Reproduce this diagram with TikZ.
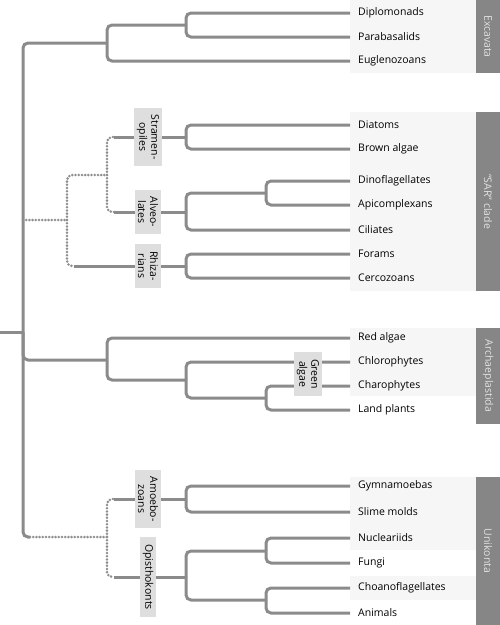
\documentclass[tikz,border=0pt]{standalone}
\usepackage{fontspec}
\setmainfont{Open Sans}
\usepackage{xcolor}
\usepackage{tikz}
\usetikzlibrary{calc}

\definecolor{branchgray}{HTML}{8B8B8B}
\definecolor{dotgray}{HTML}{8E8E8E}
\definecolor{boxgray}{HTML}{DEDEDE}
\definecolor{groupgray}{HTML}{868686}
\definecolor{grouptext}{HTML}{E2E2E2}
\definecolor{bandgray}{HTML}{F6F6F6}

\tikzset{
  branch/.style={line width=3pt, branchgray, rounded corners=5pt},
  dotbranch/.style={line width=2.8pt, dotgray, line cap=round, dash pattern=on 0pt off 3.2pt, rounded corners=5pt},
  leaf/.style={anchor=west, inner xsep=8pt, inner ysep=0pt, text=black, font=\fontsize{10.5}{13}\selectfont},
  clade/.style={fill=boxgray, rotate=-90, align=center, inner xsep=7pt, inner ysep=2.5pt, text=black, font=\fontsize{10.5}{12}\selectfont},
  group/.style={fill=groupgray, rotate=-90, minimum height=24pt, inner sep=0pt, text=grouptext, font=\fontsize{10.5}{13}\selectfont}
}

\begin{document}
\begin{tikzpicture}[x=1pt, y=-1pt]
  \useasboundingbox (0,0) rectangle (500,625);

  % Shaded bands behind the names
  \fill[bandgray] (350,0) rectangle (476,73);
  \fill[bandgray] (350,112) rectangle (476,291);
  \fill[bandgray] (350,328) rectangle (476,396);
  \fill[bandgray] (350,477) rectangle (476,550);
  \fill[bandgray] (350,576) rectangle (476,600);

  % Supergroups
  \node[group, minimum width=73pt] (excavata) at (488,36.5) {Excavata};
  \node[group, minimum width=179pt] (sarclade) at (488,201.5) {“SAR” clade};
  \node[group, minimum width=96pt] (archaep) at (488,376) {Archaeplastida};
  \node[group, minimum width=148pt] (unikonta) at (488,551) {Unikonta};

  % Leaves
  \node[leaf] (diplo) at (350,13) {Diplomonads};
  \node[leaf] (parab) at (350,37) {Parabasalids};
  \node[leaf] (eugl) at (350,61) {Euglenozoans};
  \node[leaf] (diat) at (350,125) {Diatoms};
  \node[leaf] (brown) at (350,149) {Brown algae};
  \node[leaf] (dinof) at (350,181) {Dinoflagellates};
  \node[leaf] (apic) at (350,205) {Apicomplexans};
  \node[leaf] (cil) at (350,230) {Ciliates};
  \node[leaf] (foram) at (350,254) {Forams};
  \node[leaf] (cerco) at (350,278) {Cercozoans};
  \node[leaf] (red) at (350,338) {Red algae};
  \node[leaf] (chloro) at (350,362) {Chlorophytes};
  \node[leaf] (charo) at (350,386) {Charophytes};
  \node[leaf] (land) at (350,410) {Land plants};
  \node[leaf] (gymn) at (350,486) {Gymnamoebas};
  \node[leaf] (slime) at (350,512) {Slime molds};
  \node[leaf] (nucl) at (350,538) {Nucleariids};
  \node[leaf] (fungi) at (350,563) {Fungi};
  \node[leaf] (choano) at (350,588) {Choanoflagellates};
  \node[leaf] (anim) at (350,613) {Animals};

  % Branch points
  \coordinate (stem) at (0,332);
  \coordinate (root) at (23,332);
  \coordinate (exc) at (107,43);
  \coordinate (dp) at (186,25);
  \coordinate (sar) at (67,220);
  \coordinate (sa) at (107,175);
  \coordinate (stram) at (186,137);
  \coordinate (alv) at (186,212);
  \coordinate (dino) at (266,193);
  \coordinate (rhiz) at (186,266);
  \coordinate (arch) at (107,360);
  \coordinate (green) at (186,380);
  \coordinate (cl) at (266,398);
  \coordinate (uni) at (107,537);
  \coordinate (amoe) at (186,499);
  \coordinate (opis) at (186,577);
  \coordinate (nuc) at (266,551);
  \coordinate (choa) at (266,600);

  % Trunk
  \draw[branch] (stem) -- (root);
  \draw[branch] (root) |- (exc);
  \draw[branch] (root) |- (arch);
  \draw[branch] (root) |- ($(root|-uni)+(7,0)$) coordinate (uniturn);
  \draw[dotbranch] (uniturn) -- (uni);
  \draw[dotbranch] (root|-sar) -- (sar);

  % Excavata
  \draw[branch] (exc) |- (dp);
  \draw[branch] (exc) |- (eugl);
  \draw[branch] (dp) |- (diplo);
  \draw[branch] (dp) |- (parab);

  % SAR
  \draw[dotbranch] (sar) |- (sa);
  \draw[dotbranch] (sar) |- ($(sar|-rhiz)+(7,0)$) coordinate (rhizturn);
  \draw[branch] (rhizturn) -- (rhiz);
  \draw[dotbranch] (sa) |- ($(sa|-stram)+(7,0)$) coordinate (stramturn);
  \draw[branch] (stramturn) -- (stram);
  \draw[dotbranch] (sa) |- ($(sa|-alv)+(7,0)$) coordinate (alvturn);
  \draw[branch] (alvturn) -- (alv);
  \draw[branch] (stram) |- (diat);
  \draw[branch] (stram) |- (brown);
  \draw[branch] (alv) |- (dino);
  \draw[branch] (alv) |- (cil);
  \draw[branch] (dino) |- (dinof);
  \draw[branch] (dino) |- (apic);
  \draw[branch] (rhiz) |- (foram);
  \draw[branch] (rhiz) |- (cerco);

  % Archaeplastida
  \draw[branch] (arch) |- (red);
  \draw[branch] (arch) |- (green);
  \draw[branch] (green) |- (chloro);
  \draw[branch] (green) |- (cl);
  \draw[branch] (cl) |- (charo);
  \draw[branch] (cl) |- (land);

  % Unikonta
  \draw[dotbranch] (uni) |- ($(uni|-amoe)+(7,0)$) coordinate (amoeturn);
  \draw[branch] (amoeturn) -- (amoe);
  \draw[dotbranch] (uni) |- ($(uni|-opis)+(7,0)$) coordinate (opisturn);
  \draw[branch] (opisturn) -- (opis);
  \draw[branch] (amoe) |- (gymn);
  \draw[branch] (amoe) |- (slime);
  \draw[branch] (opis) |- (nuc);
  \draw[branch] (opis) |- (choa);
  \draw[branch] (nuc) |- (nucl);
  \draw[branch] (nuc) |- (fungi);
  \draw[branch] (choa) |- (choano);
  \draw[branch] (choa) |- (anim);

  % Clade labels on the branches
  \coordinate (lblx) at (148,0);
  \node[clade] (stramlbl) at (lblx|-stram) {Stramen-\\opiles};
  \node[clade] (alvlbl) at (lblx|-alv) {Alveo-\\lates};
  \node[clade] (rhizlbl) at (lblx|-rhiz) {Rhiza-\\rians};
  \node[clade] (amoelbl) at (lblx|-amoe) {Amoebo-\\zoans};
  \node[clade] (opislbl) at (lblx|-opis) {Opisthokonts};
  \node[clade] (greenlbl) at (308,374) {Green\\algae};
\end{tikzpicture}
\end{document}
